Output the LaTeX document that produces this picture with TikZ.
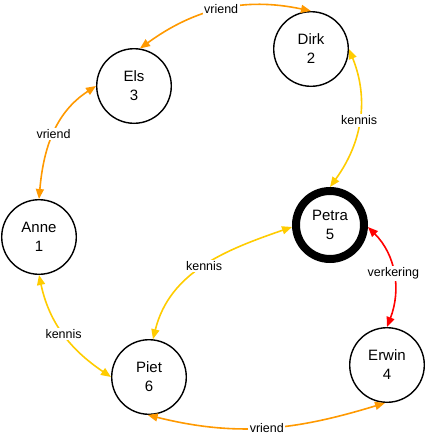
\documentclass[tikz,border=0pt]{standalone}
\usepackage{fontspec}
\setmainfont{Liberation Sans}
\usetikzlibrary{arrows.meta}
\definecolor{Vriend}{HTML}{FF9900}
\definecolor{Kennis}{HTML}{FFCC00}
\definecolor{Verkering}{HTML}{FF0000}

\begin{document}
\begin{tikzpicture}[x=1pt,y=1pt,
    persoon/.style={circle,draw,line width=1.4pt,minimum size=74.6pt,inner sep=0pt,
      align=center,font=\fontsize{15}{19}\selectfont},
    partner/.style={persoon,line width=8pt,minimum size=68pt},
    relatie/.style={line width=1.6pt,{Triangle[length=10pt,width=8pt]}-{Triangle[length=10pt,width=8pt]}},
    etiket/.style={fill=white,text=black,inner sep=1.5pt,font=\fontsize{12.5}{14}\selectfont}]
        \useasboundingbox (0,0) rectangle (426,-437);
        \node[persoon] (anne) at (39,-237) {Anne\\1};
        \node[persoon] (dirk) at (311,-49) {Dirk\\2};
        \node[persoon] (els) at (134,-86) {Els\\3};
        \node[persoon] (erwin) at (387,-365) {Erwin\\4};
        \node[partner] (petra) at (330,-225) {Petra\\5};
        \node[persoon] (piet) at (149,-377) {Piet\\6};
        \draw[relatie,Vriend] (els.81) to[out=36,in=168] node[etiket] {vriend} (dirk.90);
        \draw[relatie,Vriend] (els.180) to[out=213,in=85] node[etiket] {vriend} (anne.90);
        \draw[relatie,Kennis] (dirk.0) to[out=292,in=54] node[etiket] {kennis} (petra.90);
        \draw[relatie,Verkering] (petra.-3) to[out=315,in=69] node[etiket] {verkering} (erwin.90);
        \draw[relatie,Vriend] (piet.268) to[out=346,in=197] node[etiket] {vriend} (erwin.267);
        \draw[relatie,Kennis] (anne.270) to[out=282,in=146] node[etiket] {kennis} (piet.180);
        \draw[relatie,Kennis] (petra.183) to[out=199,in=76] node[etiket] {kennis} (piet.84);
      \end{tikzpicture}
\end{document}
